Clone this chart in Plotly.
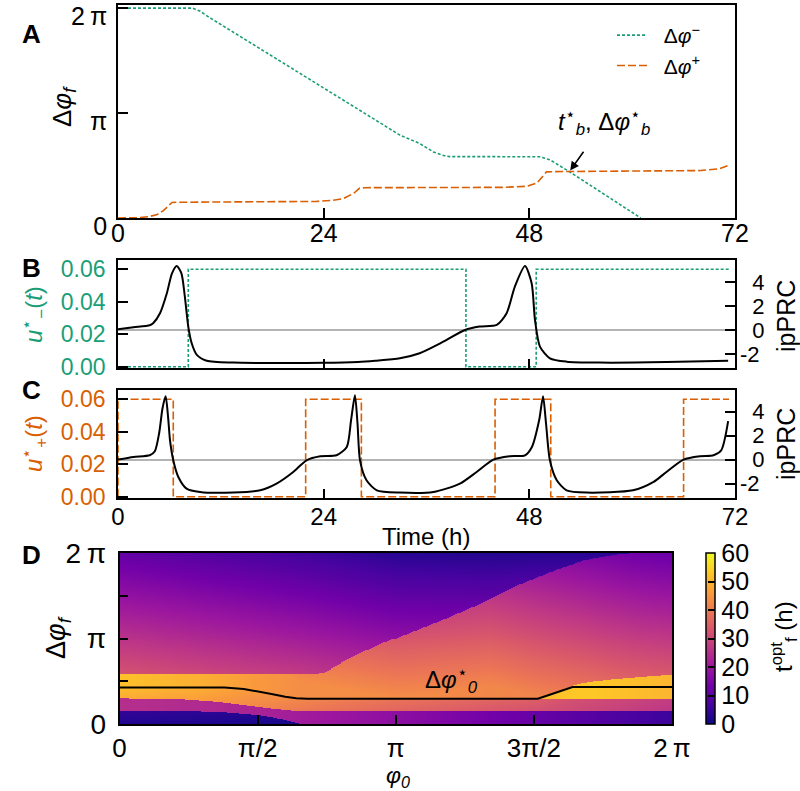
import numpy as np
import plotly.graph_objects as go

W, H = 800, 791
FONT = "Liberation Sans, Arial, Helvetica, sans-serif"
GREEN = "#1b9e77"
ORANGE = "#d95f02"

# ---------------- Panel A: phase shift vs time (phase in units of pi) ----------------
A_T_MINUS = [0, 8.7, 9.6, 10.5, 32.9, 35.2, 36.8, 38.0, 38.7, 49.2, 50.4, 52.7, 61.0]
A_DPHI_MINUS = [2.0, 2.0, 1.97, 1.92, 0.79, 0.71, 0.63, 0.595, 0.585, 0.584, 0.555, 0.44, 0.0]
A_T_PLUS = [0, 2.5, 3.5, 4.5, 5.3, 5.8, 6.3, 7.0, 20.0, 23.2, 25.0, 26.3, 27.5, 28.2, 28.8,
            45.0, 47.7, 48.9, 49.6, 50.0, 52.0, 66.0, 68.0, 70.2, 71.2]
A_DPHI_PLUS = [0, 0.003, 0.012, 0.03, 0.07, 0.11, 0.148, 0.15, 0.152, 0.158, 0.168, 0.185, 0.235,
               0.285, 0.289, 0.292, 0.302, 0.335, 0.40, 0.44, 0.443, 0.447, 0.452, 0.47, 0.50]
A_X_TICKS = [0, 24, 48, 72]
A_Y_TICKS = [0, 1, 2]
A_Y_TICKTEXT = ["0", "π", "2\u2009π"]
BRANCH_T = 52.7
BRANCH_DPHI = 0.445

# ---------------- Panel B: delaying control ----------------
B_T_CONTROL = [0, 8.2, 40.6, 48.8, 71.3]
B_U_CONTROL = [0.0, 0.06, 0.0, 0.06, 0.06]
B_T_PRC = [0, 1.8, 3.7, 4.1, 4.9, 5.7, 6.3, 6.85, 7.4, 7.8, 8.2, 8.6, 9.2, 10.35, 13.45, 20, 24, 28,
           30, 32.9, 35.2, 37.6, 40.5, 42.2, 44.2, 45.35, 46.3, 47.5, 48.27, 48.66, 49.24, 50.4,
           52.35, 56.2, 64, 71.2]
B_PRC = [0.05, 0.22, 0.39, 0.56, 1.39, 3.06, 4.72, 5.33, 4.72, 2.78, 0.28, -1.11, -2.08, -2.56,
         -2.72, -2.75, -2.74, -2.66, -2.56, -2.36, -1.94, -1.11, 0.0, 0.28, 0.42, 1.39, 3.6, 5.33,
         3.89, 0.83, -1.39, -2.36, -2.64, -2.72, -2.68, -2.56]

# ---------------- Panel C: advancing control ----------------
C_T_CONTROL = [0, 0, 6.45, 21.9, 28.4, 44.0, 50.5, 66.0, 71.3]
C_U_CONTROL = [0.0, 0.06, 0.0, 0.06, 0.0, 0.06, 0.0, 0.06, 0.06]
C_T_PRC = [0, 1.8, 3.7, 4.3, 4.8, 5.2, 5.56, 5.85, 6.07, 6.45, 7.04, 8.0, 9.57, 13.45, 16.6, 18.5,
           20.45, 22.0, 23.6, 25.5, 26.7, 27.2, 27.65, 27.95, 28.24, 29.0, 30.2, 32.9, 36.8, 39.9,
           41.85, 43.8, 45.7, 47.5, 48.3, 49.15, 49.6, 49.95, 50.4, 51.2, 52.35, 54.7, 60.1, 62.5,
           64.0, 66.0, 67.9, 69.5, 70.4, 71.2]
C_PRC = [0.0, 0.22, 0.36, 0.7, 2.2, 4.3, 5.28, 3.5, 1.6, -0.06, -1.45, -2.42, -2.7, -2.75, -2.56,
         -2.0, -1.03, -0.06, 0.28, 0.36, 1.05, 3.3, 5.36, 3.0, -0.06, -1.72, -2.56, -2.75, -2.7,
         -2.0, -1.03, 0.0, 0.28, 0.36, 1.05, 3.3, 5.28, 3.0, -0.06, -1.72, -2.56, -2.75, -2.56,
         -1.86, -1.03, 0.0, 0.28, 0.36, 0.78, 3.2]
U_TICKS = [0, 0.02, 0.04, 0.06]
U_TICKTEXT = ["0.00", "0.02", "0.04", "0.06"]
PRC_TICKS = [-2, 0, 2, 4]
PRC_TICKTEXT = ["-2", "\u20070", "\u20072", "\u20074"]

# ---------------- Panel D: t_f^opt map (phi0, dphi_f in units of pi; values in h) ----------------
D_BLUE_X = [0.0, 0.2, 0.35, 0.5, 0.59, 0.66]
D_BLUE_TOP = [0.152, 0.148, 0.144, 0.105, 0.055, 0.0]
D_BLUE_VAL = [4.5, 4.0, 3.5, 2.5, 2.0, 2.0]
D_LOW_X = [0.0, 0.226, 0.347, 0.466, 0.563, 0.66, 2.0]
D_LOW_TOP = [0.298, 0.288, 0.26, 0.214, 0.175, 0.146, 0.148]
D_VAL_X = [0.0, 0.3, 0.5, 0.66, 1.0, 1.5, 2.0]
D_LOW_VAL = [25, 24, 22.5, 21, 17.5, 11.5, 5.5]
D_MID_VAL = [50, 47.5, 44, 41, 37.5, 33.5, 28]
D_CAP_VAL = [52, 49, 45.5, 43.5, 43.5, 42, 40]
D_A_X = [0.0, 0.5, 0.65, 1.0, 1.34, 1.5, 1.86, 2.0]
D_A_VAL = [32, 28, 21, 18, 19, 17, 13, 12]
D_W_X = [0.0, 0.33, 0.67, 1.0, 1.34, 1.6, 1.86, 2.0]
D_W_VAL = [11, 8.5, 6, 3, 2.5, 3, 3.5, 3.5]
D_SLOPE = 15.0
D_G_X = [0.0, 0.65, 0.72, 0.744, 0.834, 0.954, 1.075, 1.195, 1.321, 1.442, 1.562, 1.682, 1.803, 1.86, 2.0]
D_G_Y = [0.576, 0.577, 0.585, 0.6, 0.771, 0.946, 1.101, 1.257, 1.432, 1.627, 1.783, 1.918, 1.985, 2.0, 2.05]
D_Y2_X = [1.51, 1.58, 1.646, 1.7, 1.8, 1.9, 2.0]
D_Y2_TOP = [0.296, 0.37, 0.455, 0.49, 0.525, 0.55, 0.575]
D_Y2_VAL = [50, 52, 53, 53, 52, 51, 50]
D_Y2_BOTTOM = 0.296
D_LINE_X = [0, 0.2, 0.38, 0.45, 0.5, 0.55, 0.6, 0.64, 0.68, 1.0, 1.514, 1.56, 1.6, 1.64, 1.8, 2.0]
D_LINE_Y = [0.428, 0.428, 0.426, 0.41, 0.383, 0.35, 0.318, 0.302, 0.296, 0.296, 0.296, 0.345,
            0.39, 0.432, 0.432, 0.432]
D_TICKS = [0, 0.5, 1, 1.5, 2]
D_X_TICKTEXT = ["0", "π/2", "π", "3π/2", "2\u2009π"]
D_Y_TICKTEXT = ["0", "", "π", "", "2\u2009π"]
CB_TICKS = [0, 10, 20, 30, 40, 50, 60]

# build the map on a fine grid from the read values
nx, ny = 277, 172
xs = (np.arange(nx) + 0.5) * 2.0 / nx
ys = (np.arange(ny) + 0.5) * 2.0 / ny
X, Y = np.meshgrid(xs, ys)
blue_top = np.interp(X, D_BLUE_X, D_BLUE_TOP, right=0.0)
blue_val = np.interp(X, D_BLUE_X, D_BLUE_VAL)
low_top = np.interp(X, D_LOW_X, D_LOW_TOP)
low_val = np.interp(X, D_VAL_X, D_LOW_VAL)
mid_val = np.interp(X, D_VAL_X, D_MID_VAL)
cap_val = np.interp(X, D_VAL_X, D_CAP_VAL)
a_val = np.interp(X, D_A_X, D_A_VAL)
w_val = np.interp(X, D_W_X, D_W_VAL)
g_top = np.interp(X, D_G_X, D_G_Y)
y2_top = np.interp(X, D_Y2_X, D_Y2_TOP, left=-1.0)
y2_val = np.interp(X, D_Y2_X, D_Y2_VAL)
line_y = np.interp(X, D_LINE_X, D_LINE_Y)

Z = np.where(Y >= g_top, w_val + D_SLOPE * (2 - Y), np.minimum(cap_val, a_val + D_SLOPE * (2 - Y)))
frac = np.clip((Y - low_top) / np.maximum(line_y - low_top, 1e-6), 0, 1)
Z = np.where(Y < line_y, mid_val - 1.5 + 3.0 * frac, Z)
Z = np.where((X >= D_Y2_X[0]) & (Y >= D_Y2_BOTTOM) & (Y < y2_top), y2_val, Z)
Z = np.where(Y < low_top, low_val, Z)
Z = np.where(Y < blue_top, blue_val * (0.55 + 0.45 * Y / np.maximum(blue_top, 1e-6)), Z)
Z = np.round(Z, 1)


def pxx(p):
    return p / W


def pyy(p):
    return 1 - p / H


fig = go.Figure()

# Panel A
fig.add_trace(go.Scatter(x=A_T_MINUS, y=A_DPHI_MINUS, mode="lines", xaxis="x", yaxis="y",
                         name="\u00a0\u00a0Δ<i>φ</i><sup>−</sup>",
                         line=dict(color=GREEN, width=1.6, dash="3px,2px")))
fig.add_trace(go.Scatter(x=A_T_PLUS, y=A_DPHI_PLUS, mode="lines", xaxis="x", yaxis="y",
                         name="\u00a0\u00a0Δ<i>φ</i><sup>+</sup>",
                         line=dict(color=ORANGE, width=1.6, dash="8px,3px")))

# Panel B
fig.add_trace(go.Scatter(x=B_T_CONTROL, y=B_U_CONTROL, mode="lines", xaxis="x2", yaxis="y2",
                         showlegend=False, line=dict(color=GREEN, width=1.6, dash="3px,2px", shape="hv")))
fig.add_trace(go.Scatter(x=B_T_PRC, y=B_PRC, mode="lines", xaxis="x2", yaxis="y3", showlegend=False,
                         line=dict(color="black", width=2, shape="spline", smoothing=0.7)))

# Panel C
fig.add_trace(go.Scatter(x=C_T_CONTROL, y=C_U_CONTROL, mode="lines", xaxis="x3", yaxis="y4",
                         showlegend=False, line=dict(color=ORANGE, width=1.6, dash="8px,3px", shape="hv")))
fig.add_trace(go.Scatter(x=C_T_PRC, y=C_PRC, mode="lines", xaxis="x3", yaxis="y5", showlegend=False,
                         line=dict(color="black", width=2, shape="spline", smoothing=0.7)))

# Panel D
fig.add_trace(go.Heatmap(x=xs, y=ys, z=Z, xaxis="x4", yaxis="y6", colorscale="Plasma", zmin=0, zmax=60,
                         zsmooth=False, hoverinfo="skip",
                         colorbar=dict(x=pxx(706), xanchor="left", y=pyy(724), yanchor="bottom",
                                       len=171 / H, lenmode="fraction", thickness=9, thicknessmode="pixels",
                                       xpad=0, ypad=0, outlinewidth=1.5, outlinecolor="black",
                                       tickvals=CB_TICKS, ticks="inside", ticklen=7, tickwidth=1.5,
                                       tickcolor="black",
                                       tickfont=dict(family=FONT, size=25, color="black"))))
fig.add_trace(go.Scatter(x=D_LINE_X, y=D_LINE_Y, mode="lines", xaxis="x4", yaxis="y6", showlegend=False,
                         line=dict(color="black", width=2)))

base = dict(showline=True, linecolor="black", linewidth=1.6, mirror=True, ticks="inside",
            tickcolor="black", tickwidth=1.6, showgrid=False, zeroline=False, ticklabeloverflow="allow")
XD = [pxx(118), pxx(735)]

fig.update_layout(
    width=W, height=H, margin=dict(l=0, r=0, t=0, b=0, autoexpand=False),
    paper_bgcolor="white", plot_bgcolor="white",
    font=dict(family=FONT, color="black"),
    showlegend=True,
    legend=dict(x=pxx(612), y=pyy(15), xanchor="left", yanchor="top", bgcolor="rgba(0,0,0,0)",
                font=dict(family=FONT, size=21), itemwidth=30, tracegroupgap=0),
    xaxis=dict(base, domain=XD, anchor="y", range=[0, 72], tickvals=A_X_TICKS, ticklen=10,
               tickfont=dict(size=25), ticklabelstandoff=-8),
    yaxis=dict(base, domain=[pyy(218), pyy(5)], anchor="x", range=[0, 2.03], tickvals=A_Y_TICKS,
               ticktext=A_Y_TICKTEXT, ticklen=10, tickfont=dict(size=25), ticklabelstandoff=4,
               ticklabelshift=8),
    xaxis2=dict(base, domain=XD, anchor="y2", range=[0, 72], tickvals=A_X_TICKS, ticklen=9,
                showticklabels=False),
    yaxis2=dict(base, domain=[pyy(368), pyy(260)], anchor="x2", range=[-0.0008, 0.0657], tickvals=U_TICKS,
                ticktext=U_TICKTEXT, ticklen=10, tickfont=dict(size=23, color=GREEN), ticklabelstandoff=6),
    yaxis3=dict(base, overlaying="y2", side="right", anchor="x2", range=[-3.17, 5.83], tickvals=PRC_TICKS,
                ticktext=PRC_TICKTEXT, ticklen=10, showline=False, mirror=False,
                tickfont=dict(size=22), ticklabelstandoff=4,
                zeroline=True, zerolinecolor="#b3b3b3", zerolinewidth=1.6),
    xaxis3=dict(base, domain=XD, anchor="y4", range=[0, 72], tickvals=A_X_TICKS, ticklen=9,
                tickfont=dict(size=24), ticklabelstandoff=-4),
    yaxis4=dict(base, domain=[pyy(498), pyy(390)], anchor="x3", range=[-0.0008, 0.0657], tickvals=U_TICKS,
                ticktext=U_TICKTEXT, ticklen=10, tickfont=dict(size=23, color=ORANGE), ticklabelstandoff=6),
    yaxis5=dict(base, overlaying="y4", side="right", anchor="x3", range=[-3.2, 5.8], tickvals=PRC_TICKS,
                ticktext=PRC_TICKTEXT, ticklen=10, showline=False, mirror=False,
                tickfont=dict(size=22), ticklabelstandoff=4,
                zeroline=True, zerolinecolor="#b3b3b3", zerolinewidth=1.6),
    xaxis4=dict(base, domain=[pxx(119.5), pxx(672)], anchor="y6", range=[0, 2], tickvals=D_TICKS,
                ticktext=D_X_TICKTEXT, ticklen=9, tickfont=dict(size=26), ticklabelstandoff=0),
    yaxis6=dict(base, domain=[pyy(724), pyy(553)], anchor="x4", range=[0, 2], tickvals=D_TICKS,
                ticktext=D_Y_TICKTEXT, ticklen=9, tickfont=dict(size=28), ticklabelstandoff=6),
)


def ann(text, x, y, size=25, color="black", angle=0):
    return dict(text=text, x=pxx(x), y=pyy(y), xref="paper", yref="paper", showarrow=False,
                textangle=angle, xanchor="center", yanchor="middle",
                font=dict(family=FONT, size=size, color=color))


annotations = [
    ann("<b>A</b>", 31, 34, 26),
    ann("<b>B</b>", 31, 268, 26),
    ann("<b>C</b>", 31, 390, 26),
    ann("<b>D</b>", 31, 555, 26),
    ann("Δ<i>φ</i><sub><i>f</i></sub>", 64, 107, 26, angle=-90),
    ann("<i>u</i><sup>⋆</sup><sub>−</sub>(<i>t</i>)", 34, 315, 24, GREEN, -90),
    ann("<i>u</i><sup>⋆</sup><sub>+</sub>(<i>t</i>)", 34, 444, 24, ORANGE, -90),
    ann("ipPRC", 786, 316, 25, angle=-90),
    ann("ipPRC", 786, 444, 25, angle=-90),
    ann("Time (h)", 426, 536, 24),
    ann("Δ<i>φ</i><sub><i>f</i></sub>", 58, 637, 27, angle=-90),
    ann("<i>φ</i><sub><i>0</i></sub>", 398, 776, 23),
    ann("t<sup>opt</sup><sub>f</sub> (h)", 784, 637, 24, angle=-90),
    ann("<i>t</i><sup>⋆</sup><sub><i>b</i></sub>, Δ<i>φ</i><sup>⋆</sup><sub><i>b</i></sub>", 604, 122, 24),
    ann("Δ<i>φ</i><sup>⋆</sup><sub><i>0</i></sub>", 452, 680, 24),
    dict(x=BRANCH_T, y=BRANCH_DPHI, xref="x", yref="y", text="", showarrow=True, ax=15, ay=-21,
         arrowhead=2, arrowsize=1.1, arrowwidth=1.6, arrowcolor="black", standoff=1),
]
fig.update_layout(annotations=annotations)

# remove the browser's default page margin so the 800x791 figure fills the window exactly
fig.write_html("out.html", config={"displayModeBar": False},
               post_script="document.body.style.margin='0px';")
